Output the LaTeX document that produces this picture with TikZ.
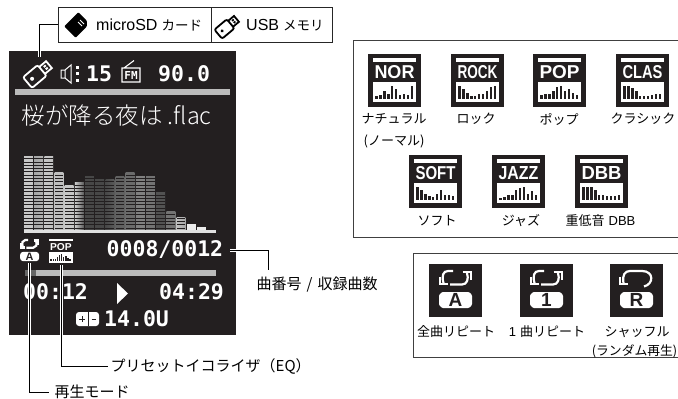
\documentclass[tikz,border=0pt]{standalone}
\usepackage{fontspec}
\usepackage{amsmath}
\setmainfont{Liberation Sans}
\newfontfamily\jpfont{Noto Sans CJK JP}
\newfontfamily\lightfont{Noto Sans CJK JP Light}
\newfontfamily\lcdfont{DejaVu Sans Mono}
\definecolor{lcdback}{HTML}{231F20}
\definecolor{barlight}{HTML}{BBBBBB}
\newcommand{\fs}[1]{\fontsize{#1}{#1}\selectfont}
\tikzset{
    lcd/.style = {text=white, inner sep=0, font=\fs{21.5}\lcdfont\bfseries},
    lbl/.style = {inner sep=0, align=center, font=\fs{13}\jpfont},
    biglbl/.style = {inner sep=0, anchor=west, font=\fs{15}\jpfont},
    leader/.style = {draw=white, line width=1pt, double=black, double distance=1pt},
    panel/.style = {draw=black!75, line width=1pt},
    tagbox/.style = {draw=black!85, line width=1pt, minimum height=34.7pt, inner sep=0},
    loopline/.style = {draw=white, line width=2.2pt},
    pics/eqicon/.style 2 args = {code = {
        \fill[lcdback] (0,0) rectangle (53,53);
        \fill[white] (4.7,4.3) rectangle (48.3,7.7);
        \node[text=white, inner sep=0, font=\bfseries] at (26.5,18) {\resizebox{40pt}{13pt}{#1}};
        \fill[white] (4.7,27.7) rectangle (48.3,47.7);
        \foreach \h [count=\n from 0] in {#2}
            \fill[lcdback] (7.4+\n*3.9,45) rectangle ++(2.4,-13*\h);
    }},
    pics/modeframe/.style = {code = {
        \fill[lcdback] (0,0) rectangle (53,53);
        \fill[white, rounded corners=1pt] (13,28) -- (40,28) -- (43,31) -- (43,41) -- (40,44)
            -- (13,44) -- (10,41) -- (10,31) -- cycle;
        \node[inner sep=0, text=lcdback, font=\fs{19}\bfseries] at (26.5,36.2) {#1};
    }},
    pics/loopicon/.style = {code = {
        \pic {modeframe={#1}};
        \draw[loopline] (24,7) -- (19,7) .. controls (14,7) and (12.5,12) .. (14.5,19);
        \draw[loopline] (11,13) -- (11,20.3) -- (19,20.3);
        \draw[loopline] (21,20.5) -- (33,20.5) .. controls (38,20.5) and (40,15) .. (38,9);
        \draw[loopline] (33.5,8) -- (41.7,8) -- (41.7,15.5);
    }},
    pics/shuffleicon/.style = {code = {
        \pic {modeframe={#1}};
        \draw[loopline] (13.5,19) .. controls (12,11) and (15,7) .. (20,7) -- (32,7)
            .. controls (44,7) and (44,20) .. (34,22.5);
        \draw[loopline] (10,13) -- (10,20.3) -- (18,20.3);
    }},
    pics/usbstick/.style = {code = {
        \draw[#1, line width=1.8pt, rounded corners=2pt] (-15,-7) rectangle (4,7);
        \draw[#1, line width=1.8pt] (4,-4.5) -- (13,-4.5) -- (13,4.5) -- (4,4.5);
        \fill[#1] (-9,0) circle (2);
        \fill[#1] (7.5,-2.5) rectangle ++(2.6,2);
        \fill[#1] (7.5,.5) rectangle ++(2.6,2);
    }},
}

\begin{document}
\begin{tikzpicture}[x=1pt, y=-1pt]
    \useasboundingbox (0,0) rectangle (678,399);

    % player screen
    \fill[lcdback] (9,51) rectangle (236,335);
    \fill[barlight] (15,89) rectangle (230,95);
    \node[text=white, inner sep=0, anchor=west, font=\fs{23.5}\lightfont] (title) at (21.5,116) {桜が降る夜は .flac};

    % top row
    \pic[rotate=40] at (39,73) {usbstick=white};
    \draw[white, line width=1pt] (61,70) rectangle (65,78) (65,70) -- (71,65) -- (71,83) -- (65,78);
    \foreach \y in {67,73.5,80}
        \fill[white] (75.5,\y-1.5) rectangle ++(3.5,3);
    \node[lcd, anchor=west] (volume) at (86,73.5) {15};
    \draw[white, line width=1.1pt] (122,68) rectangle (140,82) (124,68) -- (134,60.5);
    \node[inner sep=0, text=white, font=\fs{11}\lcdfont\bfseries] (fmmark) at (131,75.5) {FM};
    \node[lcd, anchor=west] (freq) at (158,73.5) {90.0};

    % spectrum bars
    \foreach \i/\tp/\lc/\rc in {0/156/black!22/black!22, 1/156/black!35/black!30, 2/156/black!22/black!25,
        3/172/black!25/black!25, 4/185/black!22/black!22, 5/182/black!20/black!65,
        6/176/black!72/black!72, 7/179/black!72/black!72, 8/179/black!72/black!65,
        9/176/black!62/black!62, 10/172/black!58/black!58, 11/176/black!50/black!50,
        12/176/black!55/black!55, 13/191/black!68/black!68, 14/211/black!55/black!55,
        15/217/black!25/black!35}{
        \fill[left color=\lc, right color=\rc] (24+\i*10.17,\tp) rectangle ++(8.9,230-\tp);
        \foreach \sy in {227.5,224.2,...,\tp}
            \fill[lcdback] (24+\i*10.17,\sy) rectangle ++(8.9,.9);
    }
    \fill[black!8] (187,224) rectangle (196,230);
    \fill[black!8] (197,227) rectangle (206,230);
    \fill[black!12] (24,230) rectangle (216,233);

    % mode and preset marks
    \pic[scale=.57, transform shape] at (14.5,236) {loopicon=A};
    \pic[scale=.54, transform shape] at (46.5,237) {eqicon={POP}{.3,.35,.35,.6,.9,1,.6,.8,.5,.3}};
    \node[lcd, anchor=west] (trackno) at (106.5,250) {0008/0012};

    % progress and times
    \fill[barlight] (25,270) rectangle (216,276);
    \fill[black!60] (25,270) rectangle (36,276);
    \node[lcd, anchor=west] (elapsed) at (23,292) {00:12};
    \fill[white] (117,283) -- (128,293.5) -- (117,304) -- cycle;
    \node[lcd, anchor=west] (total) at (159,292) {04:29};
    \fill[white, rounded corners=3pt] (76,312) rectangle (99,326);
    \draw[lcdback, line width=1pt] (88.5,312) -- (88.5,326);
    \draw[lcdback, line width=1pt] (79,319) -- (85,319) (82,316) -- (82,322) (91.5,319) -- (96,319);
    \node[lcd, anchor=west] (voltage) at (104,319) {14.0U};

    % media tag boxes
    \node[tagbox, minimum width=152.4pt, anchor=north west] (sdbox) at (58.3,7) {};
    \node[tagbox, minimum width=121pt, anchor=north west] (usbbox) at (210.7,7) {};
    \fill[black, rounded corners=1pt, rotate around={-45:(77,25)}] (69,15) -- (81,15) -- (85,19) -- (85,35) -- (69,35) -- cycle;
    \draw[white, line width=.8pt] (80,20) -- (84,24) (78,22) -- (82,26);
    \node[inner sep=0, anchor=west, font=\fs{16}] (sdname) at (96,25) {microSD\hspace{4pt}{\jpfont\fs{13.5}カード}};
    \pic[rotate=40, scale=.85] at (228,26) {usbstick=black};
    \node[inner sep=0, anchor=west, font=\fs{16}] (usbname) at (246,25) {USB\hspace{4pt}{\jpfont\fs{13.5}メモリ}};

    % leaders
    \coordinate (usbmark) at (39,57);
    \coordinate (countmark) at (230,250);
    \coordinate (eqmark) at (61.7,265);
    \coordinate (modemark) at (29.3,263);
    \node[biglbl] (countlabel) at (256.5,285) {曲番号\hspace{5pt}/\hspace{5pt}収録曲数};
    \node[biglbl] (eqlabel) at (110.5,366) {プリセットイコライザ（EQ）};
    \node[biglbl] (modelabel) at (54.5,392) {再生モード};
    \coordinate (countend) at (268,270);
    \draw[leader] (sdbox.west) -| (usbmark);
    \draw[leader] (countmark) -| (countend);
    \draw[leader] (eqmark) |- ([xshift=-3pt]eqlabel.west);
    \draw[leader] (modemark) |- ([xshift=-6pt]modelabel.west);

    % equalizer panel
    \draw[panel] (678,40) -- (353.3,40) -- (353.3,237) -- (678,237);
    \pic at (368,54) {eqicon={NOR}{.25,.3,.6,.35,1,.8,.3,.4,.3,1}};
    \pic at (451,54) {eqicon={ROCK}{1,.8,.5,.25,.25,.35,.35,.6,.9,1}};
    \pic at (533,54) {eqicon={POP}{.3,.35,.35,.6,.9,1,.6,.8,.5,.3}};
    \pic at (616,54) {eqicon={CLAS}{1,1,.85,.6,.25,.25,.2,.3,.35,.4}};
    \pic at (409,155) {eqicon={SOFT}{1,.75,.5,.3,.25,.5,.8,.4,.4,.3}};
    \pic at (492,155) {eqicon={JAZZ}{.15,.2,.35,.4,.75,.9,1,.5,.7,.4}};
    \pic at (575,155) {eqicon={DBB}{1,1,1,.75,.4,.4,.3,.3,.3,.35}};
    \node[lbl] (natural) at (394,131) {ナチュラル\\[9pt](ノーマル)};
    \node[lbl] (rock) at (476,119) {ロック};
    \node[lbl] (pop) at (559,119) {ポップ};
    \node[lbl] (classic) at (643,119) {クラシック};
    \node[lbl] (soft) at (437,221) {ソフト};
    \node[lbl] (jazz) at (521,221) {ジャズ};
    \node[lbl] (bass) at (600.5,221) {重低音\hspace{4pt}{\rmfamily DBB}};

    % play mode panel
    \draw[panel] (678,253) -- (413.3,253) -- (413.3,357) -- (678,357);
    \pic at (429,264) {loopicon=A};
    \pic at (520,264) {loopicon=1};
    \pic at (610,264) {shuffleicon=R};
    \node[lbl] (allrep) at (456,332) {全曲リピート};
    \node[lbl] (onerep) at (547,332) {{\rmfamily 1}\hspace{4pt}曲リピート};
    \node[lbl] (shuffle) at (637,332) {シャッフル};
    \node[lbl, font=\fs{12.8}\jpfont, anchor=east] (random) at (677.5,351) {(ランダム再生)};
\end{tikzpicture}
\end{document}
